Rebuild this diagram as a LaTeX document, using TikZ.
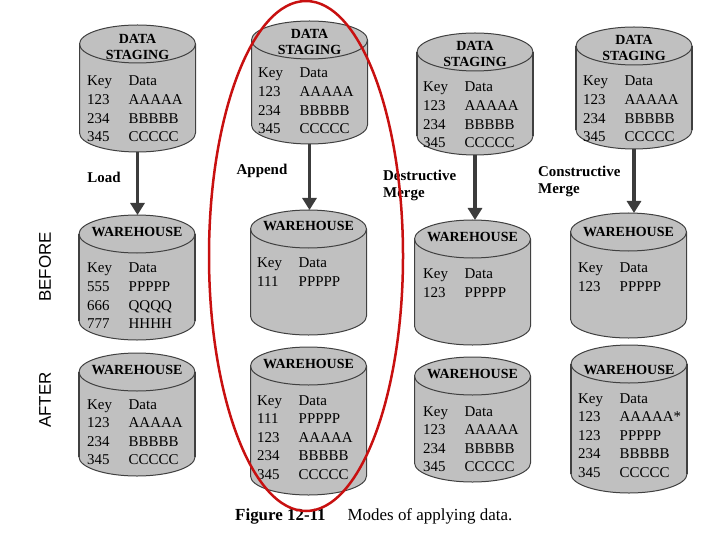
\documentclass[tikz,border=0pt]{standalone}
\usepackage{fontspec}
\setmainfont{Liberation Serif}
\setsansfont{Liberation Sans}
\usepackage{tikz}
\usetikzlibrary{arrows.meta, shapes.geometric, positioning}
\definecolor{dbfill}{RGB}{192,192,192}
\definecolor{dbline}{RGB}{64,64,64}
\definecolor{flowgray}{RGB}{60,60,60}
\definecolor{ringred}{RGB}{200,16,16}
\tikzset{
  pics/dbcyl/.style={code={
    % body with bottom and top arcs, then the rim of the top face
    \path[draw=dbline, fill=dbfill, line width=1bp]
      (-58bp,-19bp) -- (-58bp,{19bp-#1bp})
      arc[start angle=180, end angle=360, x radius=58bp, y radius=19bp]
      -- (58bp,-19bp)
      arc[start angle=0, end angle=180, x radius=58bp, y radius=19bp] -- cycle;
    \draw[dbline, line width=1bp] (-58bp,-19bp)
      arc[start angle=180, end angle=360, x radius=58bp, y radius=19bp];
    \draw[dbline, line width=1.8bp] (-58bp,-19bp) -- (-58bp,{19bp-#1bp})
      (58bp,-19bp) -- (58bp,{19bp-#1bp});
    \coordinate (-top) at (0bp,0bp);
    \coordinate (-bot) at (0bp,-#1bp);
  }},
  dbhead/.style={font=\fontsize{14}{16}\selectfont\bfseries, align=center, inner sep=0pt},
  dbrows/.style={font=\fontsize{15}{18.7}\selectfont, anchor=base west, inner sep=0pt},
  flow/.style={-{Triangle[width=14bp,length=12bp]}, line width=3.5bp, flowgray},
  mode/.style={font=\fontsize{15}{17}\selectfont\bfseries, align=left, inner sep=0pt},
  phase/.style={font=\sffamily\fontsize{17}{17}\selectfont, rotate=90, inner sep=0pt}
}
\newcommand{\keydata}[1]{\begin{tabular}[t]{@{}p{41.5bp}@{}l@{}}Key & Data\\ #1\end{tabular}}

\begin{document}
\begin{tikzpicture}[x=1bp, y=-1bp]
  \useasboundingbox (0,0) rectangle (720,540);
  % data staging
  \pic (s1) at (137.5,25) {dbcyl=127};
  \pic (s2) at (309.5,21) {dbcyl=123};
  \pic (s3) at (475,33) {dbcyl=122};
  \pic (s4) at (634,27) {dbcyl=122};
  % warehouse before
  \pic (w1) at (137,215) {dbcyl=125};
  \pic (w2) at (308.5,210) {dbcyl=125};
  \pic (w3) at (472.5,220) {dbcyl=125};
  \pic (w4) at (628.5,213) {dbcyl=125};
  % warehouse after
  \pic (a1) at (137,353) {dbcyl=123};
  \pic (a2) at (308.5,347) {dbcyl=148};
  \pic (a3) at (472.5,357) {dbcyl=125};
  \pic (a4) at (629,345) {dbcyl=148};
  % headers
  \node[dbhead] (s1h) at (137.5,47) {DATA\\STAGING};
  \node[dbhead] (s2h) at (309.5,42) {DATA\\STAGING};
  \node[dbhead] (s3h) at (475,53.5) {DATA\\STAGING};
  \node[dbhead] (s4h) at (634,47.5) {DATA\\STAGING};
  \node[dbhead] (w1h) at (137,232) {WAREHOUSE};
  \node[dbhead] (w2h) at (308.5,226) {WAREHOUSE};
  \node[dbhead] (w3h) at (472.5,237) {WAREHOUSE};
  \node[dbhead] (w4h) at (628.5,232) {WAREHOUSE};
  \node[dbhead] (a1h) at (137,370) {WAREHOUSE};
  \node[dbhead] (a2h) at (308.5,364) {WAREHOUSE};
  \node[dbhead] (a3h) at (472.5,374) {WAREHOUSE};
  \node[dbhead] (a4h) at (629,370) {WAREHOUSE};
  % key/data rows
  \node[dbrows] (s1r) at (87,86) {\keydata{123 & AAAAA\\ 234 & BBBBB\\ 345 & CCCCC}};
  \node[dbrows] (s2r) at (258,78) {\keydata{123 & AAAAA\\ 234 & BBBBB\\ 345 & CCCCC}};
  \node[dbrows] (s3r) at (423,92) {\keydata{123 & AAAAA\\ 234 & BBBBB\\ 345 & CCCCC}};
  \node[dbrows] (s4r) at (583,86) {\keydata{123 & AAAAA\\ 234 & BBBBB\\ 345 & CCCCC}};
  \node[dbrows] (w1r) at (87,273) {\keydata{555 & PPPPP\\ 666 & QQQQ\\ 777 & HHHH}};
  \node[dbrows] (w2r) at (257,268) {\keydata{111 & PPPPP}};
  \node[dbrows] (w3r) at (423,279) {\keydata{123 & PPPPP}};
  \node[dbrows] (w4r) at (578,273) {\keydata{123 & PPPPP}};
  \node[dbrows] (a1r) at (87,409) {\keydata{123 & AAAAA\\ 234 & BBBBB\\ 345 & CCCCC}};
  \node[dbrows] (a2r) at (257,405) {\keydata{111 & PPPPP\\ 123 & AAAAA\\ 234 & BBBBB\\ 345 & CCCCC}};
  \node[dbrows] (a3r) at (423,416) {\keydata{123 & AAAAA\\ 234 & BBBBB\\ 345 & CCCCC}};
  \node[dbrows] (a4r) at (578,403) {\keydata{123 & AAAAA*\\ 123 & PPPPP\\ 234 & BBBBB\\ 345 & CCCCC}};
  % load arrows
  \draw[flow] (s1-bot) -- (s1-bot |- w1-top);
  \draw[flow] (s2-bot) -- (s2-bot |- w2-top);
  \draw[flow] (s3-bot) -- (s3-bot |- w3-top);
  \draw[flow] (s4-bot) -- (s4-bot |- w4-top);
  % mode labels
  \node[mode] (load) at (104,177) {Load};
  \node[mode] (append) at (262,171) {Append};
  \node[mode, anchor=west] (dmerge) at (383,185) {Destructive\\Merge};
  \node[mode, anchor=west] (cmerge) at (538,181) {Constructive\\Merge};
  % before / after
  \node[phase] (before) at (45,267) {BEFORE};
  \node[phase] (after) at (45,400) {AFTER};
  % caption
  \node[font=\fontsize{17}{20}\selectfont, anchor=base west, inner sep=0pt] (caption)
    at (235,520) {\textbf{Figure 12-11}\hspace{22bp}Modes of applying data.};
  % red ring round the append column
  \draw[ringred, line width=2.5bp] (306,256) ellipse [x radius=97bp, y radius=255bp];
\end{tikzpicture}
\end{document}
